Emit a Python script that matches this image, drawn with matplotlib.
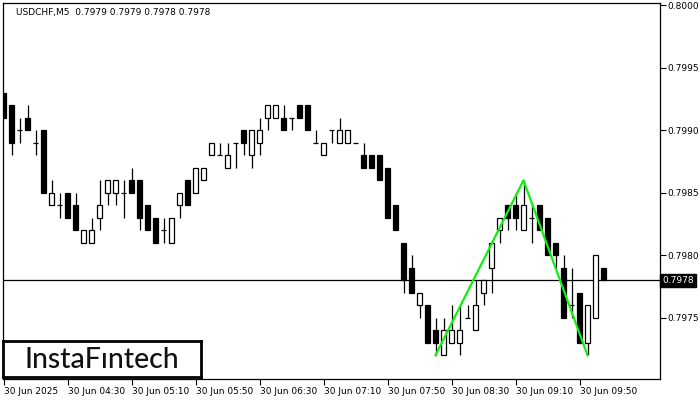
import numpy as np
import matplotlib
matplotlib.use("Agg")
import matplotlib.pyplot as plt
import matplotlib.transforms as mtransforms

# USDCHF M5 candles, 03:50 .. 10:05
opens = [0.7993, 0.7992, 0.7990, 0.7991, 0.7989, 0.7990, 0.7984, 0.7984, 0.7985, 0.7984,
         0.7981, 0.7981, 0.7983, 0.7985, 0.7985, 0.7985, 0.7986, 0.7986, 0.7984, 0.7983,
         0.7982, 0.7981, 0.7984, 0.7986, 0.7985, 0.7986, 0.7988, 0.7988, 0.7987, 0.7989,
         0.7990, 0.7988, 0.7989, 0.7991, 0.7991, 0.7991, 0.7991, 0.7992, 0.7992, 0.7989,
         0.7988, 0.7990, 0.7989, 0.7989, 0.7989, 0.7988, 0.7988, 0.7988, 0.7987, 0.7984,
         0.7981, 0.7979, 0.7976, 0.7976, 0.7974, 0.7972, 0.7973, 0.7973, 0.7975, 0.7974,
         0.7977, 0.7979, 0.7982, 0.7984, 0.7984, 0.7982, 0.7983, 0.7984, 0.7983, 0.7981,
         0.7979, 0.7976, 0.7977, 0.7973, 0.7975, 0.7979]
highs = [0.7993, 0.7992, 0.7991, 0.7992, 0.7990, 0.7990, 0.7986, 0.7985, 0.7985, 0.7985,
         0.7982, 0.7983, 0.7986, 0.7986, 0.7986, 0.7986, 0.7987, 0.7986, 0.7984, 0.7983,
         0.7983, 0.7983, 0.7985, 0.7986, 0.7987, 0.7987, 0.7989, 0.7989, 0.7989, 0.7989,
         0.7990, 0.7990, 0.7991, 0.7992, 0.7992, 0.7992, 0.7991, 0.7992, 0.7992, 0.7990,
         0.7989, 0.7990, 0.7991, 0.7990, 0.7989, 0.7989, 0.7988, 0.7988, 0.7987, 0.7984,
         0.7981, 0.7980, 0.7977, 0.7976, 0.7975, 0.7975, 0.7976, 0.7976, 0.7976, 0.7978,
         0.7978, 0.7981, 0.7983, 0.7984, 0.7985, 0.7986, 0.7984, 0.7984, 0.7983, 0.7981,
         0.7980, 0.7979, 0.7977, 0.7976, 0.7980, 0.7979]
lows = [0.7991, 0.7988, 0.7989, 0.7990, 0.7988, 0.7985, 0.7984, 0.7983, 0.7983, 0.7982,
        0.7981, 0.7981, 0.7982, 0.7984, 0.7984, 0.7983, 0.7985, 0.7982, 0.7982, 0.7981,
        0.7981, 0.7981, 0.7983, 0.7984, 0.7985, 0.7986, 0.7988, 0.7988, 0.7987, 0.7987,
        0.7988, 0.7987, 0.7988, 0.7990, 0.7991, 0.7990, 0.7990, 0.7991, 0.7990, 0.7989,
        0.7988, 0.7989, 0.7989, 0.7989, 0.7989, 0.7987, 0.7987, 0.7986, 0.7983, 0.7982,
        0.7977, 0.7977, 0.7975, 0.7973, 0.7972, 0.7972, 0.7973, 0.7972, 0.7975, 0.7974,
        0.7976, 0.7977, 0.7981, 0.7982, 0.7982, 0.7982, 0.7981, 0.7982, 0.7980, 0.7979,
        0.7975, 0.7975, 0.7973, 0.7972, 0.7975, 0.7978]
closes = [0.7991, 0.7989, 0.7990, 0.7990, 0.7989, 0.7985, 0.7985, 0.7984, 0.7983, 0.7982,
          0.7982, 0.7982, 0.7984, 0.7986, 0.7986, 0.7985, 0.7985, 0.7983, 0.7982, 0.7981,
          0.7982, 0.7983, 0.7985, 0.7984, 0.7987, 0.7987, 0.7989, 0.7988, 0.7988, 0.7989,
          0.7989, 0.7990, 0.7990, 0.7992, 0.7992, 0.7990, 0.7991, 0.7991, 0.7990, 0.7989,
          0.7989, 0.7990, 0.7990, 0.7990, 0.7989, 0.7987, 0.7987, 0.7986, 0.7983, 0.7982,
          0.7978, 0.7977, 0.7977, 0.7973, 0.7973, 0.7974, 0.7974, 0.7974, 0.7975, 0.7976,
          0.7978, 0.7981, 0.7983, 0.7983, 0.7983, 0.7984, 0.7983, 0.7982, 0.7980, 0.7980,
          0.7975, 0.7976, 0.7973, 0.7976, 0.7980, 0.7978]

# double top pattern (bar index, price)
pattern_bars = [54, 65, 73]
pattern_prices = [0.7972, 0.7986, 0.7972]

current_price = 0.7978
title_text = "USDCHF,M5  0.7979 0.7979 0.7978 0.7978"

xtick_bars = [0, 8, 16, 24, 32, 40, 48, 56, 64, 72]
xtick_labels = ["30 Jun 2025", "30 Jun 04:30", "30 Jun 05:10", "30 Jun 05:50",
                "30 Jun 06:30", "30 Jun 07:10", "30 Jun 07:50", "30 Jun 08:30",
                "30 Jun 09:10", "30 Jun 09:50"]
ytick_vals = [0.7975, 0.7980, 0.7985, 0.7990, 0.7995, 0.8000]

fig = plt.figure(figsize=(7, 4), dpi=100)
ax = fig.add_axes([2.5 / 700, 21 / 400, 657 / 700, 376 / 400])

idx = np.arange(len(opens))
o = np.array(opens)
h = np.array(highs)
l = np.array(lows)
c = np.array(closes)
w = 0.6

ax.vlines(idx, l, h, color="black", linewidth=0.9, zorder=2)
for i in idx:
    if c[i] > o[i]:
        ax.bar(i, c[i] - o[i], w, bottom=o[i], facecolor="white",
               edgecolor="black", linewidth=0.9, zorder=3)
    elif c[i] < o[i]:
        ax.bar(i, o[i] - c[i], w, bottom=c[i], facecolor="black",
               edgecolor="black", linewidth=0.9, zorder=3)
    else:
        ax.hlines(o[i], i - w / 2, i + w / 2, color="black", linewidth=0.9, zorder=3)

ax.axhline(current_price, color="black", linewidth=0.9, zorder=1)
ax.plot(pattern_bars, pattern_prices, color="#11ee11", linewidth=1.6, zorder=4)

ax.set_xlim(-0.125, 82)
ax.set_ylim(0.79701, 0.80002)

ax.yaxis.tick_right()
ax.set_yticks(ytick_vals)
ax.set_yticklabels(["%.4f" % v for v in ytick_vals])
ax.set_xticks(xtick_bars)
ax.set_xticklabels(xtick_labels, ha="left")
ax.tick_params(axis="both", direction="out", length=4, width=0.8,
               labelsize=6.5, pad=2)
for s in ax.spines.values():
    s.set_linewidth(0.9)

trans = mtransforms.blended_transform_factory(ax.transAxes, ax.transData)
ax.text(1.004, current_price, "%.4f" % current_price, transform=trans,
        fontsize=6.5, color="white", va="center", ha="left",
        bbox=dict(boxstyle="square,pad=0.25", facecolor="black", edgecolor="black"))

fig.text(16 / 700, 1 - 12 / 400, title_text, fontsize=6.5, va="center", ha="left")

# logo box
logo_ax = fig.add_axes([3 / 700, 23 / 400, 198 / 700, 36 / 400])
logo_ax.set_xticks([])
logo_ax.set_yticks([])
for s in logo_ax.spines.values():
    s.set_linewidth(2)
logo_ax.text(0.5, 0.47, "InstaF\u0131ntech", fontsize=20.5, family="Lato",
             fontweight="medium", ha="center", va="center", color="#111111")

fig.savefig("out.png", dpi=100)
